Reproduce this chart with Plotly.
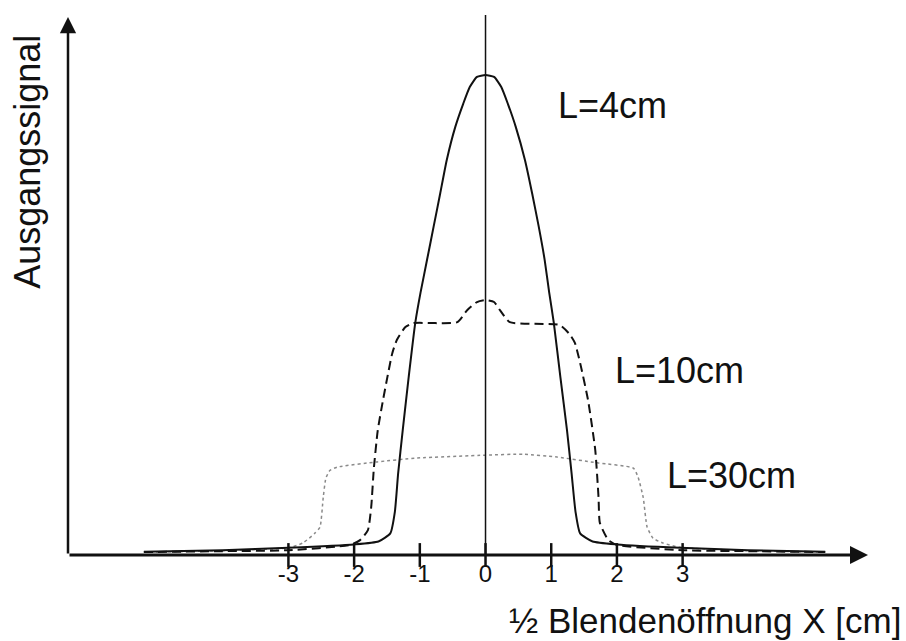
import plotly.graph_objects as go

# L = 4 cm (solid)
x_L4 = [-5.2, -4.0, -3.0, -2.0, -1.63, -1.45, -1.38, -1.33, -1.26, -1.17, -1.07, -0.99, -0.89,
        -0.79, -0.69, -0.59, -0.46, -0.34, -0.24, -0.13, 0.0, 0.13, 0.24, 0.34, 0.46, 0.6, 0.71,
        0.81, 0.9, 0.97, 1.04, 1.14, 1.24, 1.31, 1.37, 1.44, 1.63, 2.0, 2.96, 4.0, 5.17]
y_L4 = [0.7, 1.0, 1.5, 2.2, 2.8, 4.5, 9.0, 17.0, 26.0, 37.0, 48.3, 54.6, 61.5,
        68.4, 75.3, 82.3, 89.2, 94.0, 97.5, 99.6, 100.0, 99.6, 97.5, 94.0, 89.2, 82.3, 75.3,
        68.4, 61.5, 54.6, 48.3, 37.0, 26.0, 17.0, 9.0, 4.5, 2.8, 2.2, 1.5, 1.0, 0.7]

# L = 10 cm (dashed)
x_L10 = [-5.2, -4.0, -3.0, -2.06, -1.91, -1.79, -1.74, -1.70, -1.64, -1.56, -1.42, -1.35, -1.22,
         -1.10, -0.43, -0.28, -0.13, 0.0, 0.13, 0.22, 0.37, 1.13, 1.28, 1.36, 1.44, 1.56, 1.67,
         1.72, 1.74, 1.87, 2.0, 3.0, 4.0, 5.17]
y_L10 = [0.6, 0.8, 1.0, 2.1, 3.1, 5.2, 10.0, 18.0, 26.0, 32.3, 42.0, 44.8, 47.5,
         48.3, 48.5, 51.0, 52.7, 53.1, 52.7, 51.0, 48.5, 47.9, 46.0, 44.2, 40.0, 32.3, 21.9,
         12.0, 6.7, 3.1, 2.1, 1.0, 0.8, 0.6]

# L = 30 cm (dotted)
x_L30 = [-5.2, -4.0, -3.0, -2.78, -2.6, -2.52, -2.47, -2.43, -2.37, -2.26, -1.65, -1.04, 0.0,
         0.57, 1.09, 1.7, 2.25, 2.32, 2.40, 2.46, 2.55, 2.7, 2.96, 4.0, 5.17]
y_L30 = [0.6, 0.9, 1.5, 2.5, 4.5, 5.8, 12.0, 16.0, 17.6, 18.3, 19.4, 20.2, 20.8,
         21.0, 20.4, 19.2, 18.1, 16.3, 12.0, 5.8, 3.5, 2.5, 1.6, 0.9, 0.6]

tick_vals = [-3, -2, -1, 0, 1, 2, 3]
tick_text = ["-3", "-2", "-1", "0", "1", "2", "3"]

curve_labels = ["L=4cm", "L=10cm", "L=30cm"]
label_x = [1.925, 2.945, 3.75]
label_y = [93.75, 38.5, 16.5]

X_MIN, X_MAX = -6.355, 5.852
Y_MAX = 112.5
FONT = "Arial, Liberation Sans, sans-serif"

fig = go.Figure()

fig.add_trace(go.Scatter(x=x_L30, y=y_L30, mode="lines",
                         line=dict(color="#8a8a8a", width=1.5, dash="dot", shape="spline", smoothing=0.5),
                         showlegend=False, hoverinfo="skip"))
fig.add_trace(go.Scatter(x=x_L10, y=y_L10, mode="lines",
                         line=dict(color="#111111", width=2, dash="9px,5px", shape="spline", smoothing=0.5),
                         showlegend=False, hoverinfo="skip"))
fig.add_trace(go.Scatter(x=x_L4, y=y_L4, mode="lines",
                         line=dict(color="#111111", width=2, shape="spline", smoothing=0.5),
                         showlegend=False, hoverinfo="skip"))

# tick marks crossing the axis
fig.add_trace(go.Scatter(x=tick_vals, y=[0] * len(tick_vals), mode="markers",
                         marker=dict(symbol="line-ns", size=17, line=dict(color="#111111", width=2.5)),
                         showlegend=False, hoverinfo="skip", cliponaxis=False))

fig.add_vline(x=0, line=dict(color="#111111", width=1.5))

# axis arrows
fig.add_annotation(x=5.822, y=0, ax=X_MIN, ay=0, xref="x", yref="y", axref="x", ayref="y",
                   text="", showarrow=True, arrowhead=2, arrowsize=1.2, arrowwidth=3, arrowcolor="#111111")
fig.add_annotation(x=X_MIN, y=112.1, ax=X_MIN, ay=0, xref="x", yref="y", axref="x", ayref="y",
                   text="", showarrow=True, arrowhead=2, arrowsize=1.3, arrowwidth=2.5, arrowcolor="#111111")

for t, lx, ly in zip(curve_labels, label_x, label_y):
    fig.add_annotation(x=lx, y=ly, text=t, showarrow=False, xref="x", yref="y",
                       xanchor="center", yanchor="middle",
                       font=dict(family=FONT, size=36, color="#111111"))

fig.add_annotation(x=-0.0499, y=0.728, xref="paper", yref="paper", text="Ausgangssignal",
                   textangle=-90, xanchor="center", yanchor="middle", showarrow=False,
                   font=dict(family=FONT, size=36, color="#111111"))
fig.add_annotation(x=1.041, y=-0.122, xref="paper", yref="paper", text="½ Blendenöffnung X [cm]",
                   xanchor="right", yanchor="middle", showarrow=False,
                   font=dict(family=FONT, size=35, color="#111111"))

fig.update_layout(
    width=906, height=641,
    margin=dict(l=68, r=36, t=15, b=86),
    paper_bgcolor="white", plot_bgcolor="white",
    xaxis=dict(range=[X_MIN, X_MAX], showgrid=False, zeroline=False, showline=False,
               tickmode="array", tickvals=tick_vals, ticktext=tick_text, ticks="",
               ticklabelstandoff=2,
               tickfont=dict(family=FONT, size=24, color="#111111")),
    yaxis=dict(range=[0, Y_MAX], visible=False, showgrid=False, zeroline=False),
)

fig.write_html("out.html", config={"displayModeBar": False},
               post_script="document.body.style.margin='0px';")
